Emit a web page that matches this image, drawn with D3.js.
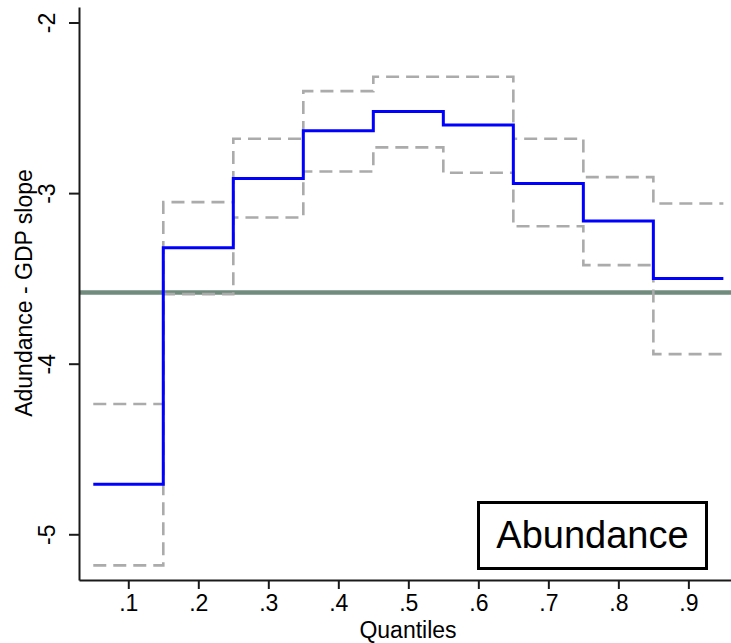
<!DOCTYPE html>
<html>
<head>
<meta charset="utf-8">
<script src="https://cdn.jsdelivr.net/npm/d3@7"></script>
<style>
  body { margin: 0; background: #fff; }
  svg { display: block; font-family: "Liberation Sans", Arial, sans-serif; }
</style>
</head>
<body>
<svg id="chart" width="731" height="643"></svg>
<script>
// quantile regression estimates
const quantiles = [0.1, 0.2, 0.3, 0.4, 0.5, 0.6, 0.7, 0.8, 0.9];
const estimate = [-4.707, -3.321, -2.914, -2.635, -2.521, -2.601, -2.943, -3.164, -3.500];
const upperCI = [-4.236, -3.053, -2.681, -2.402, -2.318, -2.318, -2.681, -2.906, -3.061];
const lowerCI = [-5.182, -3.592, -3.143, -2.873, -2.732, -2.881, -3.194, -3.422, -3.944];
const olsValue = -3.582;
const yTicks = [-2, -3, -4, -5];
const legendLabel = "Abundance";

const width = 731;
const height = 643;
const left = 79;
const bottom = 580;
const fontSize = 23;

const svg = d3.select("#chart");

const xScale = d3.scaleLinear().domain([0.0296, 0.9609]).range([left, width]);
const yScale = d3.scaleLinear().domain([-5.268, -1.909]).range([bottom, 7]);

// steps are centred on each quantile, half a bin either side
const half = 0.05;
function stepPoints(values) {
  const pts = quantiles.map((q, i) => [q - half, values[i]]);
  pts.push([quantiles[quantiles.length - 1] + half, values[values.length - 1]]);
  return pts;
}

const line = d3
  .line()
  .x((d) => xScale(d[0]))
  .y((d) => yScale(d[1]))
  .curve(d3.curveStepAfter);

// OLS reference line
svg
  .append("line")
  .attr("x1", left)
  .attr("x2", width)
  .attr("y1", yScale(olsValue))
  .attr("y2", yScale(olsValue))
  .attr("stroke", "#718c7e")
  .attr("stroke-width", 4.5);

// confidence bands
[upperCI, lowerCI].forEach((ci) => {
  svg
    .append("path")
    .attr("d", line(stepPoints(ci)))
    .attr("fill", "none")
    .attr("stroke", "#ababab")
    .attr("stroke-width", 2.6)
    .attr("stroke-dasharray", "13,7");
});

svg
  .append("path")
  .attr("d", line(stepPoints(estimate)))
  .attr("fill", "none")
  .attr("stroke", "#0000ff")
  .attr("stroke-width", 3);

// axes
const xAxis = d3
  .axisBottom(xScale)
  .tickValues(quantiles)
  .tickSize(9)
  .tickSizeOuter(0)
  .tickFormat((d) => d3.format(".1f")(d).replace(/^0/, ""));

const gx = svg.append("g").attr("transform", `translate(0,${bottom})`).call(xAxis);
gx.select(".domain").attr("stroke", "#1a1a1a").attr("stroke-width", 2);
gx.selectAll(".tick line").attr("stroke", "#1a1a1a").attr("stroke-width", 2);
gx.selectAll(".tick text")
  .attr("font-size", fontSize)
  .attr("font-family", "Liberation Sans, Arial, sans-serif")
  .attr("fill", "#000")
  .attr("dy", null)
  .attr("y", 31);

const yAxis = d3
  .axisLeft(yScale)
  .tickValues(yTicks)
  .tickSize(10)
  .tickSizeOuter(0)
  .tickFormat((d) => String(d));
const gy = svg.append("g").attr("transform", `translate(${left},0)`).call(yAxis);
gy.select(".domain").attr("stroke", "#1a1a1a").attr("stroke-width", 2);
gy.selectAll(".tick line").attr("stroke", "#1a1a1a").attr("stroke-width", 2);
gy.selectAll(".tick text")
  .attr("font-size", fontSize)
  .attr("font-family", "Liberation Sans, Arial, sans-serif")
  .attr("fill", "#000")
  .attr("x", null)
  .attr("dy", null)
  .attr("text-anchor", "middle")
  .attr("transform", "translate(-24,0) rotate(-90)");

// axis titles
svg
  .append("text")
  .attr("x", (left + width) / 2 + 3)
  .attr("y", 638)
  .attr("text-anchor", "middle")
  .attr("font-size", fontSize)
  .text("Quantiles");

svg
  .append("text")
  .attr("transform", "translate(32,293) rotate(-90)")
  .attr("text-anchor", "middle")
  .attr("font-size", fontSize)
  .text("Adundance - GDP slope");

// label box
const box = svg.append("g").attr("transform", "translate(478.5,502.5)");
box
  .append("rect")
  .attr("width", 228)
  .attr("height", 66)
  .attr("fill", "#fff")
  .attr("stroke", "#000")
  .attr("stroke-width", 3);
box
  .append("text")
  .attr("x", 114)
  .attr("y", 45)
  .attr("text-anchor", "middle")
  .attr("font-size", 38)
  .text(legendLabel);
</script>
</body>
</html>
